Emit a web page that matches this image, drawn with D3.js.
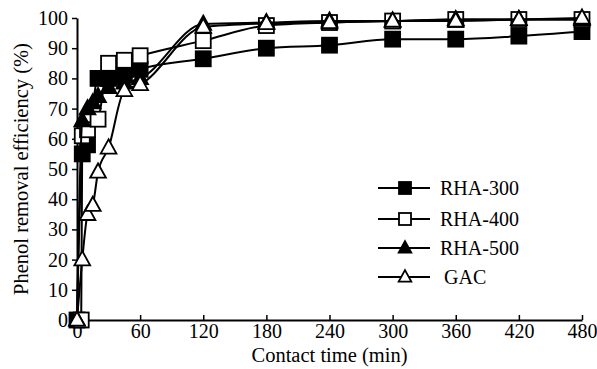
<!DOCTYPE html>
<html><head><meta charset="utf-8">
<script src="https://cdn.jsdelivr.net/npm/d3@7"></script>
<style>body{margin:0;background:#fff}svg{display:block}svg text{font-family:"Liberation Serif","DejaVu Serif",serif !important;}</style>
</head><body>
<svg id="c" width="597" height="369"></svg>
<script>
const seriesNames = ["RHA-300", "RHA-400", "RHA-500", "GAC"];
const rha300Times = [0, 5, 10, 20, 30, 45, 60, 120, 180, 240, 300, 360, 420, 480];
const rha300Vals  = [0, 55, 58, 80, 80, 81, 83, 86.5, 90, 91, 93, 93, 94, 95.5];
const rha400Times = [4, 5, 10, 20, 30, 45, 60, 120, 180, 240, 300, 360, 420, 480];
const rha400Vals  = [0, 61, 63, 66.5, 85, 86, 87.5, 92.5, 97.5, 98.5, 99, 99.5, 99.5, 99.5];
const rha500Times = [0, 5, 10, 15, 20, 30, 45, 60, 120, 180, 240, 300, 360, 420, 480];
const rha500Vals  = [0, 66, 70, 72, 74, 77, 78.5, 80, 98, 98.5, 99, 99, 99.5, 99.5, 99.5];
const gacTimes    = [0, 5, 10, 15, 20, 30, 45, 60, 120, 180, 240, 300, 360, 420, 480];
const gacVals     = [0, 20, 35, 38, 49, 57, 76, 78, 97, 98.2, 98.5, 99, 99, 99.5, 100];
const xTicks = [0, 60, 120, 180, 240, 300, 360, 420, 480];
const yTicks = [0, 10, 20, 30, 40, 50, 60, 70, 80, 90, 100];
const xTitle = "Contact time (min)";
const yTitle = "Phenol removal efficiency (%)";

const svg = d3.select("#c");
const font = "Liberation Serif";
const x = d3.scaleLinear().domain([0, 480]).range([77, 582]);
const y = d3.scaleLinear().domain([0, 100]).range([320, 18]);

const yAxis = svg.append("g").attr("transform", `translate(${x(0)},0)`)
  .call(d3.axisLeft(y).tickValues(yTicks).tickSize(5).tickSizeOuter(0).tickPadding(4));
const xAxis = svg.append("g").attr("transform", `translate(0,${y(0)})`)
  .call(d3.axisBottom(x).tickValues(xTicks).tickSize(-5).tickSizeOuter(0).tickPadding(6));
[xAxis, yAxis].forEach(g => {
  g.attr("font-family", font);
  g.select(".domain").attr("stroke", "#000").attr("stroke-width", 2);
  g.selectAll(".tick line").attr("stroke", "#000").attr("stroke-width", 1.5);
  g.selectAll("text").attr("font-size", 20).attr("fill", "#000");
});
xAxis.selectAll("text").attr("dy", "0.85em").attr("y", 1);

svg.append("text").attr("x", x(240)).attr("y", 362).attr("text-anchor", "middle")
  .attr("font-size", 20.5).text(xTitle);
svg.append("text").attr("transform", `translate(21,${(y(0)+y(100))/2}) rotate(-90)`)
  .attr("text-anchor", "middle").attr("dy", "0.35em")
  .attr("font-size", 20.5).text(yTitle);

const series = [
  {name: seriesNames[0], t: rha300Times, v: rha300Vals, shape: "square", fill: "#000"},
  {name: seriesNames[1], t: rha400Times, v: rha400Vals, shape: "square", fill: "#fff"},
  {name: seriesNames[2], t: rha500Times, v: rha500Vals, shape: "triangle", fill: "#000"},
  {name: seriesNames[3], t: gacTimes, v: gacVals, shape: "triangle", fill: "#fff"}
];

const line = d3.line().x(d => x(d[0])).y(d => y(d[1])).curve(d3.curveMonotoneX);
function marker(sel, s, size) {
  if (s.shape === "square") {
    sel.append("rect").attr("x", -size/2).attr("y", -size/2).attr("width", size).attr("height", size)
      .attr("fill", s.fill).attr("stroke", "#000").attr("stroke-width", 1.8);
  } else {
    const h = size * 0.95, w = size * 1.05;
    sel.append("path").attr("d", `M0,${-h*0.6}L${w/2},${h*0.4}L${-w/2},${h*0.4}Z`)
      .attr("fill", s.fill).attr("stroke", "#000").attr("stroke-width", 1.8).attr("stroke-linejoin", "miter");
  }
}
series.forEach(s => {
  const pts = s.t.map((t, i) => [t, s.v[i]]);
  svg.append("path").datum(pts).attr("d", line).attr("fill", "none")
    .attr("stroke", "#000").attr("stroke-width", 2);
  pts.forEach(p => {
    const g = svg.append("g").attr("transform", `translate(${x(p[0])},${y(p[1])})`);
    marker(g, s, 15);
  });
});

const legY = [188, 219, 248, 277];
series.forEach((s, i) => {
  const g = svg.append("g").attr("transform", `translate(0,${legY[i]})`);
  g.append("line").attr("x1", 378).attr("x2", 430).attr("stroke", "#000").attr("stroke-width", 2);
  const m = g.append("g").attr("transform", "translate(405,0)");
  marker(m, s, 12);
  g.append("text").attr("x", s.name === "GAC" ? 444 : 440).attr("dy", "0.35em")
    .attr("font-size", 20).text(s.name);
});
</script>
</body></html>
